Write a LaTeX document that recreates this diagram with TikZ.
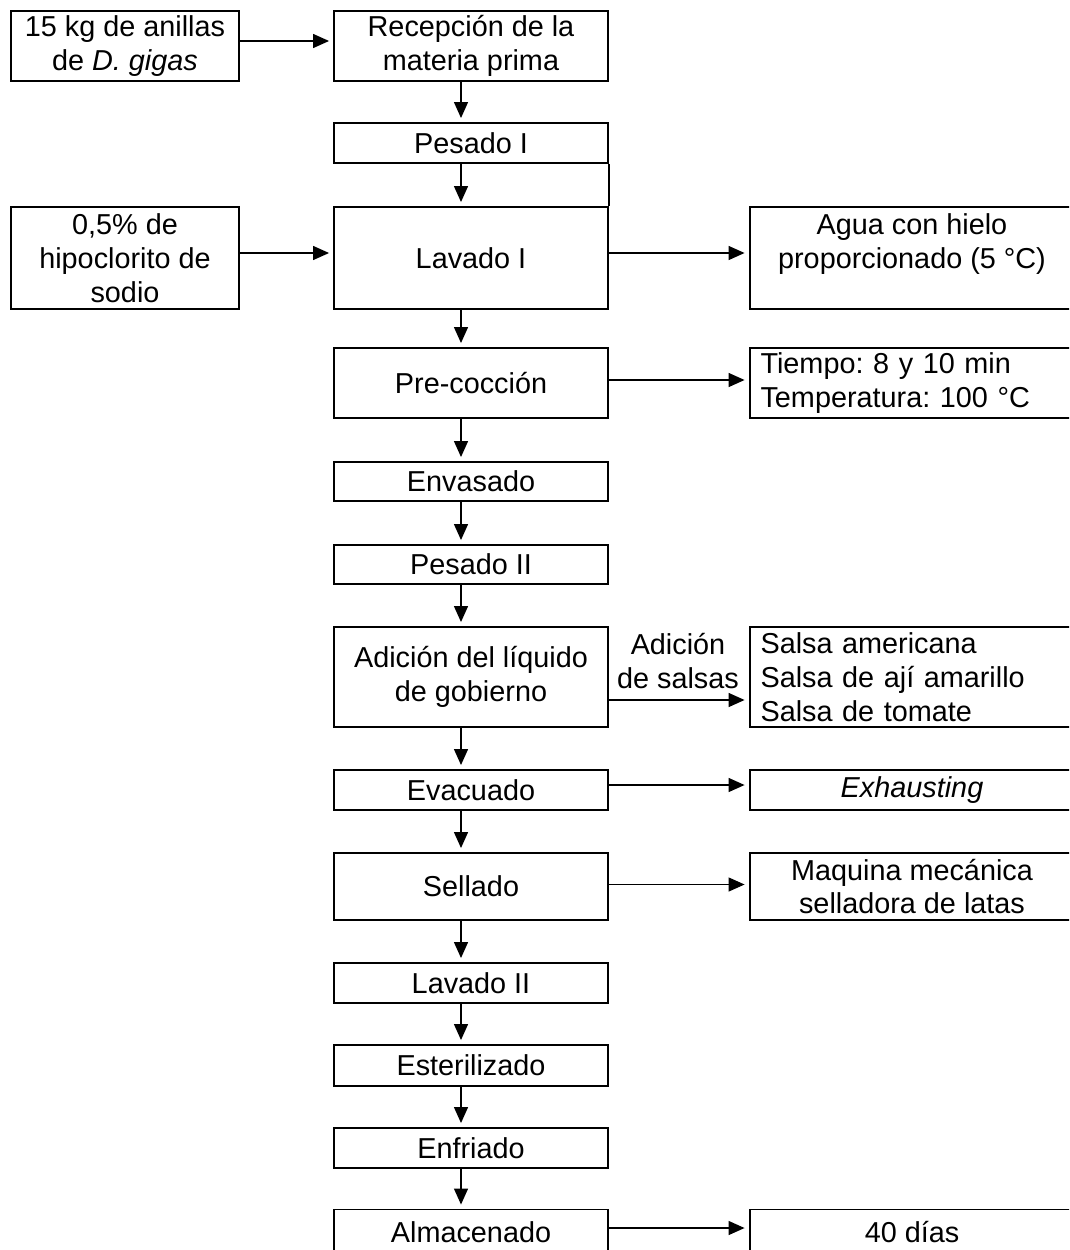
\documentclass[tikz,border=0pt]{standalone}
\usepackage{fontspec}
\setmainfont{Liberation Sans}
\frenchspacing
\usetikzlibrary{arrows.meta}

\tikzset{
  box/.style={draw, line width=1.1pt, minimum width=5.48cm, inner sep=0pt, align=center,
              font=\fontsize{16.4}{19.3}\selectfont},
  inbox/.style={box, minimum width=4.56cm},
  outbox/.style={box, minimum width=6.5cm},
  leftbox/.style={box, text width=6.06cm, inner xsep=0.22cm, align=left},
  arr/.style={line width=0.75pt, -{Triangle[length=0.32cm,width=0.28cm]}, shorten >=0.08cm},
  flow/.style={every edge/.style={draw, arr}},
}

\begin{document}
\begin{tikzpicture}[x=0.02cm, y=-0.02cm]
\clip (0,0) rectangle (1069,1250);

\draw (125,46) node[inbox, minimum height=1.4cm] (src) {15 kg de anillas\\de \textit{D. gigas}} ;
\draw (471,46) node[box, minimum height=1.4cm] (rec) {Recepción de la\\materia prima} ;

\draw (471,143) node[box, minimum height=0.8cm] (pes1) {Pesado I} ;

\draw (125,258) node[inbox, minimum height=2.04cm] (hipo) {0,5\% de\\hipoclorito de\\sodio} ;
\draw (471,258) node[box, minimum height=2.04cm] (lav1) {Lavado I} ;
\draw (912,258) node[outbox, minimum height=2.04cm] (agua) {Agua con hielo\\proporcionado (5 °C)\\\mbox{}} ;

\draw (471,383) node[box, minimum height=1.4cm] (prec) {Pre-cocción} ;
\draw (912,383) node[leftbox, minimum height=1.4cm] (tiem) {Tiempo: 8 y 10 min\\Temperatura: 100 °C} ;

\draw (471,481.5) node[box, minimum height=0.78cm] (env) {Envasado} ;
\draw (471,564.5) node[box, minimum height=0.78cm] (pes2) {Pesado II} ;

\draw (471,677) node[box, minimum height=2cm] (adic) {Adición del líquido\\de gobierno} ;
\draw (912,677) node[leftbox, minimum height=2cm] (sals) {Salsa americana\\Salsa de ají amarillo\\Salsa de tomate} ;
\draw (678,661) node[align=center, inner sep=0pt, font=\fontsize{16.4}{19.3}\selectfont] (lbl) {Adición\\de salsas} ;

\draw (471,790) node[box, minimum height=0.8cm] (evac) {Evacuado} ;
\draw (912,790) node[outbox, minimum height=0.8cm] (exh) {\textit{Exhausting}} ;

\draw (471,886.5) node[box, minimum height=1.34cm] (sell) {Sellado} ;
\draw (912,886.5) node[outbox, minimum height=1.34cm] (maq) {Maquina mecánica\\selladora de latas} ;

\draw (471,983) node[box, minimum height=0.8cm] (lav2) {Lavado II} ;
\draw (471,1065.5) node[box, minimum height=0.82cm] (est) {Esterilizado} ;
\draw (471,1148) node[box, minimum height=0.8cm] (enf) {Enfriado} ;

\draw (471,1232) node[box, minimum height=0.9cm] (alm) {Almacenado} ;
\draw (912,1232) node[outbox, minimum height=0.9cm] (dias) {40 días} ;

\coordinate (col) at (461,0) ;

% main line
\path[flow]
     (rec.south -| col) edge (pes1.north -| col)
     (pes1.south -| col) edge (lav1.north -| col)
     (lav1.south -| col) edge (prec.north -| col)
     (prec.south -| col) edge (env.north -| col)
     (env.south -| col) edge (pes2.north -| col)
     (pes2.south -| col) edge (adic.north -| col)
     (adic.south -| col) edge (evac.north -| col)
     (evac.south -| col) edge (sell.north -| col)
     (sell.south -| col) edge (lav2.north -| col)
     (lav2.south -| col) edge (est.north -| col)
     (est.south -| col) edge (enf.north -| col)
     (enf.south -| col) edge (alm.north -| col) ;

% side inputs and outputs
\path[flow]
     ([yshift=0.1cm]src.east) edge ([yshift=0.1cm]rec.west)
     ([yshift=0.1cm]hipo.east) edge ([yshift=0.1cm]lav1.west)
     ([yshift=0.1cm]lav1.east) edge ([yshift=0.1cm]agua.west)
     ([yshift=0.06cm]prec.east) edge ([yshift=0.06cm]tiem.west)
     ([yshift=-0.46cm]adic.east) edge ([yshift=-0.46cm]sals.west)
     ([yshift=0.1cm]evac.east) edge ([yshift=0.1cm]exh.west)
     ([yshift=0.04cm]sell.east) edge ([yshift=0.04cm]maq.west)
     ([yshift=0.08cm]alm.east) edge ([yshift=0.08cm]dias.west) ;

\draw[line width=1.1pt] (pes1.south east) -- (lav1.north east) ;
\end{tikzpicture}
\end{document}
